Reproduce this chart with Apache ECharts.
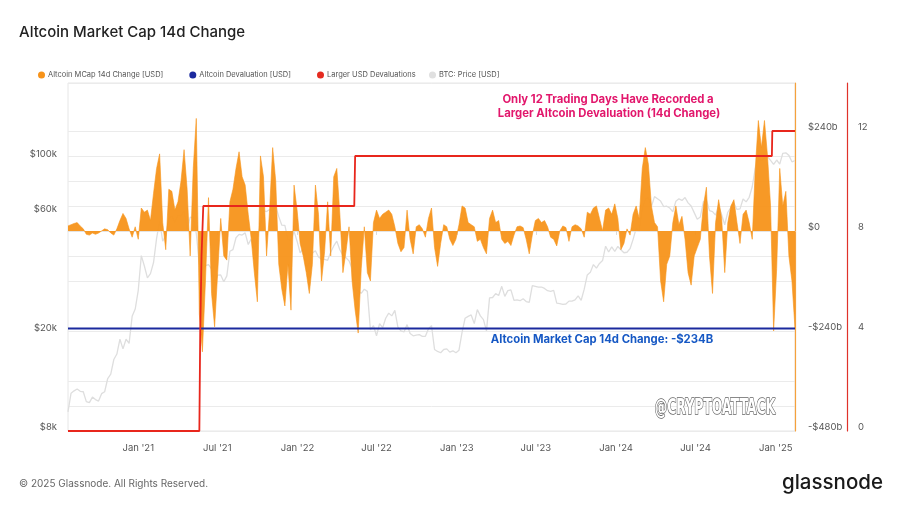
<!DOCTYPE html>
<html><head><meta charset="utf-8">
<script src="https://cdn.jsdelivr.net/npm/echarts@6/dist/echarts.min.js"></script>
<style>html,body{margin:0;padding:0;background:#fff}#c{width:900px;height:507px}</style>
</head><body><div id="c"></div>
<script>
// ---- data ----
const sampleStart = '2020-07-24';          // first weekly sample
const axisStart = '2020-07-24';
const axisEnd = '2025-02-14';
// Altcoin market cap 14d change, billions USD, weekly samples
const mcapChange14d = [
  12,15,18,20,12,5,-8,-10,-5,-8,
  -5,0,5,3,-5,-10,5,25,42,30,
  5,-15,10,-20,55,45,50,25,90,150,
  185,20,-45,100,95,50,70,120,195,100,
  -60,150,270,-200,-290,-120,80,-150,-230,-100,
  30,-60,-70,70,100,150,190,130,110,40,
  -20,-100,-170,180,130,-60,50,200,120,-80,
  -140,-180,-80,-190,110,50,-30,-60,-100,-150,
  -80,110,40,-120,-50,70,-60,130,150,40,
  -100,-50,10,-120,-190,-245,-90,10,-100,-120,
  20,50,30,40,45,50,40,10,-30,-50,
  -40,50,-20,-55,10,15,5,-15,30,55,
  -40,-85,-30,15,10,-20,-35,-20,15,60,
  55,20,15,10,-25,-20,-40,-55,30,50,
  20,25,-20,-30,-25,-35,-10,10,12,8,
  -20,-55,-10,25,30,20,25,10,-15,-20,
  -36,0,12,8,-25,10,15,12,5,-15,
  45,40,55,60,30,0,50,55,40,65,
  30,-45,-30,5,-10,40,60,30,150,200,
  160,60,20,10,-120,-170,-80,-60,20,60,
  15,35,-20,-100,-130,-60,-40,-20,60,105,
  -60,-150,20,75,30,-100,20,60,75,20,
  -30,40,50,20,-20,150,265,200,265,180,
  60,-240,-90,150,60,95,-60,-120,-234
];
// BTC price, USD, same weekly samples
const btcPrice = [
  9550,11350,11600,11800,11550,11500,10500,10400,10950,10700,
  10550,11300,11500,13000,13550,15500,16300,18700,17100,18700,
  18000,23100,24700,29400,40500,36800,33000,34300,38000,47500,
  55900,46300,48900,57300,58300,55100,59000,58300,61400,51700,
  57800,57400,49700,37500,35700,36900,37300,35800,31600,33800,
  33900,31800,33600,42200,42800,47800,49300,49000,50000,44900,
  47300,42800,48100,53900,61500,60900,62000,61000,64100,58100,
  53700,53600,47100,46700,50800,46300,41600,43100,36300,37700,
  41500,42400,40000,39200,39100,38800,41800,44300,46300,42800,
  40600,39700,38600,36000,30000,29200,28600,29700,29100,20400,
  21200,19300,21600,20800,22700,23800,23200,24400,20900,20200,
  20000,21400,19700,19300,19400,19500,19200,19200,20600,21200,
  17000,16700,16500,17000,17100,16600,16800,16500,16900,19900,
  22700,23100,23400,21600,24600,23200,22400,20200,27400,27500,
  28500,28000,30500,27800,29300,29500,26800,26900,26700,27200,
  26500,26300,30700,30500,30300,30300,29900,29300,29100,29400,
  26100,26000,25800,25900,26600,26600,26900,27900,26800,29700,
  33900,34700,37300,36100,37700,38700,44200,41900,43900,42100,
  44100,42800,41600,41800,43200,47100,52100,50700,62400,68300,
  69500,63800,69900,68500,67100,63800,64000,62900,60800,67000,
  68500,67500,69300,66000,64100,60300,56700,57900,66700,67900,
  61400,60900,58900,64100,59100,53900,60500,63200,65800,62100,
  62400,68400,66600,69500,76600,91000,98900,97500,99900,101400,
  97700,94200,98100,94500,104400,104800,102400,96500,97500
];
const devaluationLevel = -234; // billions
const largerDevalDates = ['2020-07-24','2021-05-21','2021-05-23','2021-05-26','2021-05-30','2022-05-11','2022-05-13','2024-12-23','2024-12-24','2025-02-14'];
const largerDevalCounts = [0,0,4,7,9,9,11,11,12,12];
const xTickDates = ['2021-01-01','2021-07-01','2022-01-01','2022-07-01','2023-01-01','2023-07-01','2024-01-01','2024-07-01','2025-01-01'];
const xTickLabels = ["Jan '21","Jul '21","Jan '22","Jul '22","Jan '23","Jul '23","Jan '24","Jul '24","Jan '25"];
const priceTickValues = [8000, 20000, 60000, 100000];
const priceTickLabels = ['$8k','$20k','$60k','$100k'];
const changeTickValues = [-480, -240, 0, 240];
const changeTickLabels = ['-$480b','-$240b','$0','$240b'];
const countTickValues = [0, 4, 8, 12];

// ---- helpers ----
function toTime(s){ const p = s.split('-').map(Number); return new Date(p[0], p[1]-1, p[2]).getTime(); }
const sp = sampleStart.split('-').map(Number);
const sampleDates = mcapChange14d.map((_, k) => new Date(sp[0], sp[1]-1, sp[2] + 7*k).getTime());
const tMin = toTime(axisStart), tMax = toTime(axisEnd);
const xTicks = xTickDates.map(toTime);

const GRID = '#ebebeb', NONE = 'rgba(0,0,0,0)';
const gridColors = [GRID,GRID,GRID,NONE,GRID,NONE,GRID,GRID,GRID,GRID,GRID,GRID,GRID,NONE,GRID];
const FONT = 'Inter, "Noto Sans", sans-serif';
const labelStyle = {color:'#555', fontSize:9.5, fontFamily:FONT};
const yLabelStyle = Object.assign({verticalAlign:'bottom', lineHeight:8}, labelStyle);
const legendText = {fontSize:7.5, color:'#555', fontFamily:FONT, padding:[0,0,0,-2]};

const chart = echarts.init(document.getElementById('c'), null, {renderer:'canvas'});
chart.setOption({
  animation:false,
  backgroundColor:'#fff',
  title:{text:'Altcoin Market Cap 14d Change', left:19, top:25, padding:0, textStyle:{fontSize:15, fontWeight:500, color:'#222', fontFamily:FONT}},
  legend:[
    {left:38, top:71, padding:0, icon:'circle', itemWidth:7, itemHeight:7, itemGap:26, selectedMode:false,
      textStyle:legendText,
      data:['Altcoin MCap 14d Change [USD]','Altcoin Devaluation [USD]','Larger USD Devaluations']},
    {left:429, top:71, padding:0, icon:'circle', itemWidth:7, itemHeight:7, selectedMode:false,
      textStyle:legendText, data:['BTC: Price [USD]']}
  ],
  grid:{left:68, right:105, top:83, bottom:76, show:true, borderColor:'#e6e6e6', borderWidth:1},
  xAxis:{
    type:'value', min:tMin, max:tMax,
    axisLine:{show:true, lineStyle:{color:'#e3e3e3'}},
    axisTick:{show:true, customValues:xTicks, length:4, lineStyle:{color:'#d9d9d9'}},
    axisLabel:Object.assign({customValues:xTicks, margin:12, formatter:function(v){
      const i = xTicks.findIndex(t => Math.abs(t - v) < 3600000); return i >= 0 ? xTickLabels[i] : ''; }}, labelStyle),
    splitLine:{show:false}
  },
  yAxis:[
    {type:'log', logBase:10, min:8000, max:200000, show:false},
    {type:'value', position:'right', min:-480, max:355, interval:60,
      axisLine:{show:true, lineStyle:{color:'#f5a13c', width:1.2}}, axisTick:{show:false},
      axisLabel:Object.assign({margin:13, formatter:function(v){
        const i = changeTickValues.indexOf(v); return i >= 0 ? changeTickLabels[i] : ''; }}, yLabelStyle),
      splitLine:{show:true, lineStyle:{color:gridColors, width:1}}},
    {type:'value', position:'right', offset:52, min:0, max:13.92, interval:4,
      axisLine:{show:true, lineStyle:{color:'#e0322a', width:1.2}}, axisTick:{show:false},
      axisLabel:Object.assign({margin:11, formatter:function(v){
        return countTickValues.indexOf(v) >= 0 ? String(v) : ''; }}, yLabelStyle),
      splitLine:{show:false}},
    {type:'value', position:'left', min:Math.log10(8000), max:Math.log10(200000),
      axisLine:{show:false}, axisTick:{show:false}, splitLine:{show:false},
      axisLabel:Object.assign({margin:11, customValues:priceTickValues.map(Math.log10), formatter:function(v){
        const i = priceTickValues.findIndex(p => Math.abs(Math.log10(p) - v) < 1e-6); return i >= 0 ? priceTickLabels[i] : ''; }}, yLabelStyle)}
  ],
  series:[
    {name:'BTC: Price [USD]', type:'line', yAxisIndex:0, z:1, symbol:'none', color:'#e0e0e0',
      lineStyle:{color:'#dedede', width:1.3},
      data:sampleDates.map((t,k) => [t, btcPrice[k]])},
    {name:'Altcoin MCap 14d Change [USD]', type:'line', yAxisIndex:1, z:2, symbol:'none', color:'#f7931a',
      lineStyle:{color:'#f7931a', width:0.6}, areaStyle:{color:'#f7931a', opacity:0.95, origin:0},
      data:sampleDates.map((t,k) => [t, mcapChange14d[k]])},
    {name:'Altcoin Devaluation [USD]', type:'line', yAxisIndex:1, z:3, symbol:'none', color:'#1b2a9e',
      lineStyle:{color:'#1b2a9e', width:2},
      data:[[tMin, devaluationLevel],[tMax, devaluationLevel]]},
    {name:'Larger USD Devaluations', type:'line', yAxisIndex:2, z:4, symbol:'none', color:'#e52b20',
      lineStyle:{color:'#e8261c', width:1.8},
      data:largerDevalDates.map((d,k) => [toTime(d), largerDevalCounts[k]])}
  ],
  graphic:[
    {type:'text', x:608, y:100, z:10, style:{text:'Only 12 Trading Days Have Recorded a', fill:'#e2176c', font:'bold 11.3px '+FONT, textAlign:'center', textVerticalAlign:'middle'}},
    {type:'text', x:609, y:114, z:10, style:{text:'Larger Altcoin Devaluation (14d Change)', fill:'#e2176c', font:'bold 11.3px '+FONT, textAlign:'center', textVerticalAlign:'middle'}},
    {type:'text', x:602, y:340, z:10, style:{text:'Altcoin Market Cap 14d Change: -$234B', fill:'#1658c4', font:'bold 11.3px '+FONT, textAlign:'center', textVerticalAlign:'middle'}},
    {type:'text', x:715, y:408, z:10, scaleX:0.63, style:{text:'@CRYPTOATTACK', fill:'#ffffff', stroke:'#666', lineWidth:1.6, font:'bold 22px "Liberation Sans Narrow", "DejaVu Sans Condensed", sans-serif', textAlign:'center', textVerticalAlign:'middle'}},
    {type:'text', x:19, y:484, style:{text:'© 2025 Glassnode. All Rights Reserved.', fill:'#666', font:'10px '+FONT, textVerticalAlign:'middle'}},
    {type:'text', x:782, y:483, style:{text:'glassnode', fill:'#1a1a1a', font:'500 20.5px '+FONT, textVerticalAlign:'middle'}}
  ]
});
</script></body></html>
